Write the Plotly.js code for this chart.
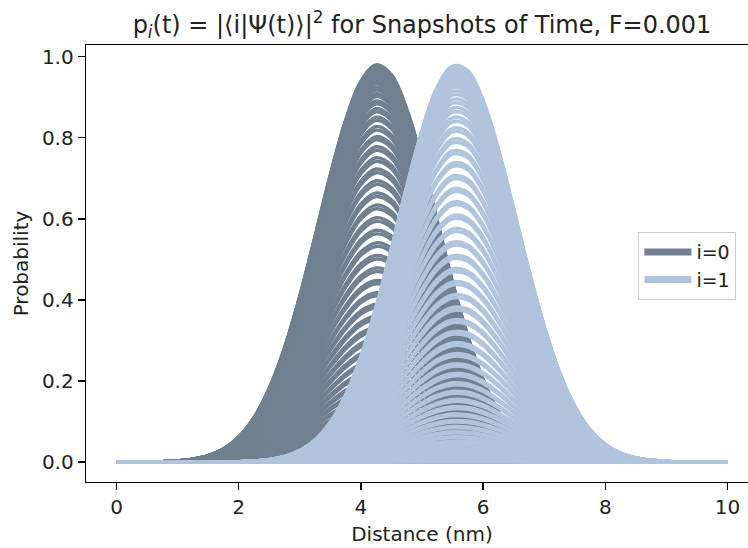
<!DOCTYPE html>
<html><head><meta charset="utf-8">
<script src="https://cdn.plot.ly/plotly-3.0.1.min.js"></script>
<style>html,body{margin:0;padding:0;overflow:hidden;background:#fff}#chart{width:760px;height:548px}</style>
</head><body><div id="chart"></div>
<script>
// Distance grid (nm)
const distance = [0, 0.25, 0.5, 0.75, 1, 1.25, 1.5, 1.75, 2, 2.25, 2.5, 2.75, 3, 3.25, 3.5, 3.75, 4, 4.25, 4.5, 4.75, 5, 5.25, 5.5, 5.75, 6, 6.25, 6.5, 6.75, 7, 7.25, 7.5, 7.75, 8, 8.25, 8.5, 8.75, 9, 9.25, 9.5, 9.75, 10];
// Normalised envelope of state i=0 (peak ~4.3 nm)
const shape0 = [0.0001, 0.0002, 0.0005, 0.0013, 0.0033, 0.0076, 0.0165, 0.0333, 0.0632, 0.112, 0.186, 0.288, 0.419, 0.569, 0.724, 0.861, 0.959, 1.000, 0.975, 0.889, 0.759, 0.607, 0.453, 0.317, 0.208, 0.127, 0.0729, 0.0391, 0.0196, 0.0092, 0.0041, 0.0017, 0.0006, 0.0002, 0.0001, 0, 0, 0, 0, 0, 0];
// Normalised envelope of state i=1 (peak ~5.6 nm)
const shape1 = [0, 0, 0, 0, 0, 0, 0.0001, 0.0004, 0.0011, 0.0028, 0.0065, 0.0142, 0.0291, 0.0559, 0.100, 0.169, 0.266, 0.391, 0.538, 0.694, 0.836, 0.944, 0.997, 0.985, 0.911, 0.788, 0.638, 0.483, 0.343, 0.227, 0.141, 0.0819, 0.0445, 0.0226, 0.0108, 0.0048, 0.0020, 0.0008, 0.0003, 0.0001, 0];
// Snapshot probabilities p_0(t)
const amp0 = [0.980, 0.978, 0.975, 0.971, 0.967, 0.962, 0.957, 0.951, 0.946, 0.939, 0.933, 0.925, 0.918, 0.909, 0.902, 0.891, 0.884, 0.872, 0.864, 0.851, 0.843, 0.828, 0.819, 0.803, 0.795, 0.778, 0.769, 0.751, 0.742, 0.723, 0.714, 0.694, 0.685, 0.664, 0.655, 0.634, 0.625, 0.603, 0.594, 0.572, 0.563, 0.541, 0.532, 0.510, 0.501, 0.479, 0.470, 0.448, 0.440, 0.418, 0.410, 0.389, 0.381, 0.360, 0.352, 0.332, 0.324, 0.305, 0.297, 0.279, 0.271, 0.253, 0.246, 0.229, 0.222, 0.206, 0.199, 0.184, 0.178, 0.163, 0.157, 0.143, 0.138, 0.125, 0.120, 0.108, 0.103, 0.092, 0.088, 0.078, 0.074, 0.065, 0.061, 0.053, 0.050, 0.042, 0.039, 0.032, 0.030, 0.024, 0.022, 0.017, 0.015, 0.011, 0.009, 0.006, 0.005, 0.003, 0.002, 0.001, 0.000];
// Snapshot probabilities p_1(t)
const amp1 = [0.980, 0.979, 0.976, 0.973, 0.969, 0.965, 0.960, 0.954, 0.948, 0.941, 0.934, 0.926, 0.917, 0.908, 0.897, 0.888, 0.876, 0.866, 0.852, 0.842, 0.826, 0.817, 0.799, 0.790, 0.770, 0.762, 0.740, 0.732, 0.708, 0.700, 0.676, 0.668, 0.643, 0.636, 0.610, 0.602, 0.577, 0.569, 0.544, 0.536, 0.511, 0.503, 0.478, 0.470, 0.446, 0.438, 0.414, 0.406, 0.383, 0.375, 0.352, 0.345, 0.323, 0.316, 0.295, 0.288, 0.268, 0.262, 0.243, 0.237, 0.219, 0.213, 0.196, 0.191, 0.175, 0.170, 0.155, 0.150, 0.137, 0.132, 0.119, 0.115, 0.103, 0.099, 0.088, 0.085, 0.075, 0.072, 0.063, 0.060, 0.052, 0.049, 0.042, 0.040, 0.033, 0.031, 0.025, 0.023, 0.018, 0.016, 0.012, 0.010, 0.007, 0.006, 0.004, 0.003, 0.002, 0.001, 0.000];
const seriesNames = ['i=0', 'i=1'];
const seriesColors = ['#708090', '#B0C4DE'];
const xTicks = [0, 2, 4, 6, 8, 10];
const yTicks = [0, 0.2, 0.4, 0.6, 0.8, 1.0];

function buildTrace(amps, shape, color) {
  const xs = [], ys = [];
  amps.forEach(a => {
    distance.forEach((d, k) => { xs.push(d); ys.push(a * shape[k]); });
    xs.push(null); ys.push(null);
  });
  return {type: 'scatter', mode: 'lines', x: xs, y: ys, connectgaps: false,
    line: {color: color, width: 3.4, shape: 'spline', smoothing: 1},
    showlegend: false, hoverinfo: 'skip'};
}
const traces = [
  buildTrace(amp0, shape0, seriesColors[0]),
  buildTrace(amp1, shape1, seriesColors[1]),
  {type: 'scatter', mode: 'lines', x: [null], y: [null], name: seriesNames[0], line: {color: seriesColors[0], width: 7}},
  {type: 'scatter', mode: 'lines', x: [null], y: [null], name: seriesNames[1], line: {color: seriesColors[1], width: 7}}
];
const font = {family: 'DejaVu Sans', color: '#222'};
const layout = {
  width: 760, height: 548,
  margin: {l: 86, r: 2.4, t: 45, b: 66},
  paper_bgcolor: '#fff', plot_bgcolor: '#fff',
  font: Object.assign({size: 20}, font),
  title: {text: 'p<sub><i>i</i></sub>(t) = |⟨i|Ψ(t)⟩|<sup>2</sup> for Snapshots of Time, F=0.001',
    font: Object.assign({size: 24}, font), x: 0.5, xref: 'paper', xanchor: 'center', y: 0.955, yanchor: 'middle'},
  xaxis: {range: [-0.5, 10.5], tickvals: xTicks, showline: true, mirror: true, linecolor: '#000', linewidth: 1.3,
    ticks: 'outside', ticklen: 7, tickwidth: 1.3, tickcolor: '#000', showgrid: false, zeroline: false,
    tickfont: Object.assign({size: 20}, font),
    title: {text: 'Distance (nm)', font: Object.assign({size: 20}, font), standoff: 8}},
  yaxis: {range: [-0.049, 1.029], tickvals: yTicks, tickformat: '.1f', showline: true, mirror: true, linecolor: '#000', linewidth: 1.3,
    ticks: 'outside', ticklen: 7, tickwidth: 1.3, tickcolor: '#000', showgrid: false, zeroline: false,
    tickfont: Object.assign({size: 20}, font),
    title: {text: 'Probability', font: Object.assign({size: 20}, font), standoff: 8}},
  legend: {x: 0.822, y: 0.572, xanchor: 'left', yanchor: 'top', bgcolor: '#fff', bordercolor: '#cccccc', borderwidth: 1,
    font: Object.assign({size: 19}, font), itemwidth: 47, tracegroupgap: 0},
  showlegend: true
};
Plotly.newPlot('chart', traces, layout, {staticPlot: true, displayModeBar: false});
</script>
</body></html>
